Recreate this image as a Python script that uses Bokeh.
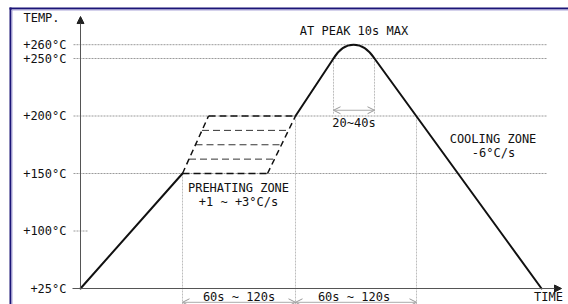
import numpy as np
from bokeh.plotting import figure
from bokeh.models import Range1d, Arrow, NormalHead, OpenHead
from bokeh.core.properties import value
from bokeh.embed import file_html
from bokeh.resources import INLINE

# ---------------- data ----------------
temp_ticks = [25, 100, 150, 200, 250, 260]
temp_labels = ["+25°C", "+100°C", "+150°C", "+200°C", "+250°C", "+260°C"]
grid_temps = [150, 200, 250, 260]

# schematic time axis (arbitrary units), solid profile segments
rise_time = [0, 102]
rise_temp = [25, 150]
ramp_time = [215, 253]
ramp_temp = [200, 250]
cool_time = [294, 461]
cool_temp = [250, 25]
peak_time = [253, 294]
peak_temp = 260

# preheat (soak) band, dashed parallelogram
preheat_temps = [150, 162.5, 175, 187.5, 200]
preheat_left = [102, 128]    # time at 150 / 200 on left edge
preheat_right = [187, 215]   # time at 150 / 200 on right edge

# zone boundaries for dimension marks
zone_times = [102, 215, 336]
zone_temps = [150, 200, 200]
zone_label = "60s ~ 120s"
peak_span_label = "20~40s"

# ---------------- schematic temperature scale ----------------
def lev(t):
    return np.interp(t, [25, 100, 250, 260], [50, 100, 250, 262])

K = 1.15
Y0, Y1 = 50 - 16 / K, 50 + 288 / K
X0, X1 = -80, 488

FONT = value("DejaVu Sans Mono")
INK = "#111111"
AXIS = "#555555"
GRID = "#9a9a9a"
VGRID = "#bdbdbd"
NAVY = "#1b1577"
LAV = "#aaa4d8"

p = figure(width=568, height=304, x_range=Range1d(X0, X1), y_range=Range1d(Y0, Y1),
           output_backend="svg", toolbar_location=None, min_border=0,
           x_axis_type=None, y_axis_type=None)
p.outline_line_color = None
p.background_fill_color = "white"
p.border_fill_color = "white"

# frame border (top/left)
top_y, top_y2 = Y1 - 8 / K, Y1 - 9.5 / K
left_x, left_x2 = X0 + 10, X0 + 11.5
p.segment(x0=[left_x - 1], y0=[top_y], x1=[X1], y1=[top_y], line_color=NAVY, line_width=2)
p.segment(x0=[left_x2], y0=[top_y2], x1=[X1], y1=[top_y2], line_color=LAV, line_width=1)
p.segment(x0=[left_x], y0=[top_y + 1 / K], x1=[left_x], y1=[Y0], line_color=NAVY, line_width=2)
p.segment(x0=[left_x2], y0=[top_y2], x1=[left_x2], y1=[Y0], line_color=LAV, line_width=1)

# dotted horizontal guide lines
gl = [lev(t) for t in grid_temps]
p.segment(x0=[-7] * len(gl), y0=gl, x1=[467] * len(gl), y1=gl,
          line_color=GRID, line_width=1, line_dash="2 1")
p.segment(x0=[-7], y0=[lev(100)], x1=[8], y1=[lev(100)],
          line_color=GRID, line_width=1, line_dash="2 1")

# vertical zone guide lines
p.segment(x0=zone_times, y0=[Y0] * 3, x1=zone_times, y1=[lev(t) for t in zone_temps],
          line_color=VGRID, line_width=1, line_dash="2 1")
p.segment(x0=peak_time, y0=[lev(202)] * 2, x1=peak_time, y1=[lev(250)] * 2,
          line_color=VGRID, line_width=1, line_dash="2 1")

# axes
p.add_layout(Arrow(end=NormalHead(size=7, fill_color="#222", line_color="#222"),
                   x_start=0, y_start=lev(25), x_end=0, y_end=286.5,
                   line_color=AXIS, line_width=1))
p.add_layout(Arrow(end=NormalHead(size=7, fill_color="#222", line_color="#222"),
                   x_start=-8, y_start=lev(25), x_end=481, y_end=lev(25),
                   line_color=AXIS, line_width=1))

# preheat dashed band
frac = [(t - 150) / 50 for t in preheat_temps]
lx = [preheat_left[0] + f * (preheat_left[1] - preheat_left[0]) for f in frac]
rx = [preheat_right[0] + f * (preheat_right[1] - preheat_right[0]) for f in frac]
ly = [lev(t) for t in preheat_temps]
p.segment(x0=lx[1:4], y0=ly[1:4], x1=rx[1:4], y1=ly[1:4],
          line_color="#333", line_width=1, line_dash="7 4")
p.segment(x0=[lx[0], lx[4]], y0=[ly[0], ly[4]], x1=[rx[0], rx[4]], y1=[ly[0], ly[4]],
          line_color=INK, line_width=1.5, line_dash="7 4")
p.segment(x0=[preheat_left[0], preheat_right[0]], y0=[lev(150)] * 2,
          x1=[preheat_left[1], preheat_right[1]], y1=[lev(200)] * 2,
          line_color=INK, line_width=1.5, line_dash="6 4")

# solid profile
for tx, ty in [(rise_time, rise_temp), (ramp_time, ramp_temp), (cool_time, cool_temp)]:
    p.line(tx, [lev(t) for t in ty], line_color=INK, line_width=2, line_cap="round")
top = lev(peak_temp)
base = lev(250)
cy = (top - 0.25 * base) / 0.75
p.bezier(x0=[peak_time[0]], y0=[base], x1=[peak_time[1]], y1=[base],
         cx0=[peak_time[0] + 11], cy0=[cy], cx1=[peak_time[1] - 12], cy1=[cy],
         line_color=INK, line_width=2)

# dimension arrows
def dim(x0, x1, y):
    p.add_layout(Arrow(start=OpenHead(size=7, line_color="#999", line_width=1),
                       end=OpenHead(size=7, line_color="#999", line_width=1),
                       x_start=x0, y_start=y, x_end=x1, y_end=y,
                       line_color="#aaa", line_width=1))

dim(peak_time[0], peak_time[1], lev(205))
dim(zone_times[0], zone_times[1], 38)
dim(zone_times[1], zone_times[2], 38)

# texts
def txt(x, y, s, align="center", baseline="middle"):
    p.text(x=[x], y=[y], text=[s], text_font=FONT, text_font_size="12px",
           text_align=align, text_baseline=baseline, text_color=INK)

p.text(x=[-14] * len(temp_ticks), y=[lev(t) for t in temp_ticks], text=temp_labels,
       text_font=FONT, text_font_size="12px", text_align="right",
       text_baseline="middle", text_color=INK)
txt(-39, 284.8, "TEMP.")
txt(468, 43, "TIME")
txt(sum(peak_time) / 2, 274.3, "AT PEAK 10s MAX")
txt(sum(peak_time) / 2, 193.5, peak_span_label)
txt(158, 137, "PREHATING ZONE")
txt(158, 124.8, "+1 ~ +3°C/s")
txt(412.5, 180.4, "COOLING ZONE")
txt(413, 167.4, "-6°C/s")
txt((zone_times[0] + zone_times[1]) / 2, 43, zone_label)
txt((zone_times[1] + zone_times[2]) / 2 - 2, 43, zone_label)

open("out.html", "w").write(file_html(p, INLINE))
